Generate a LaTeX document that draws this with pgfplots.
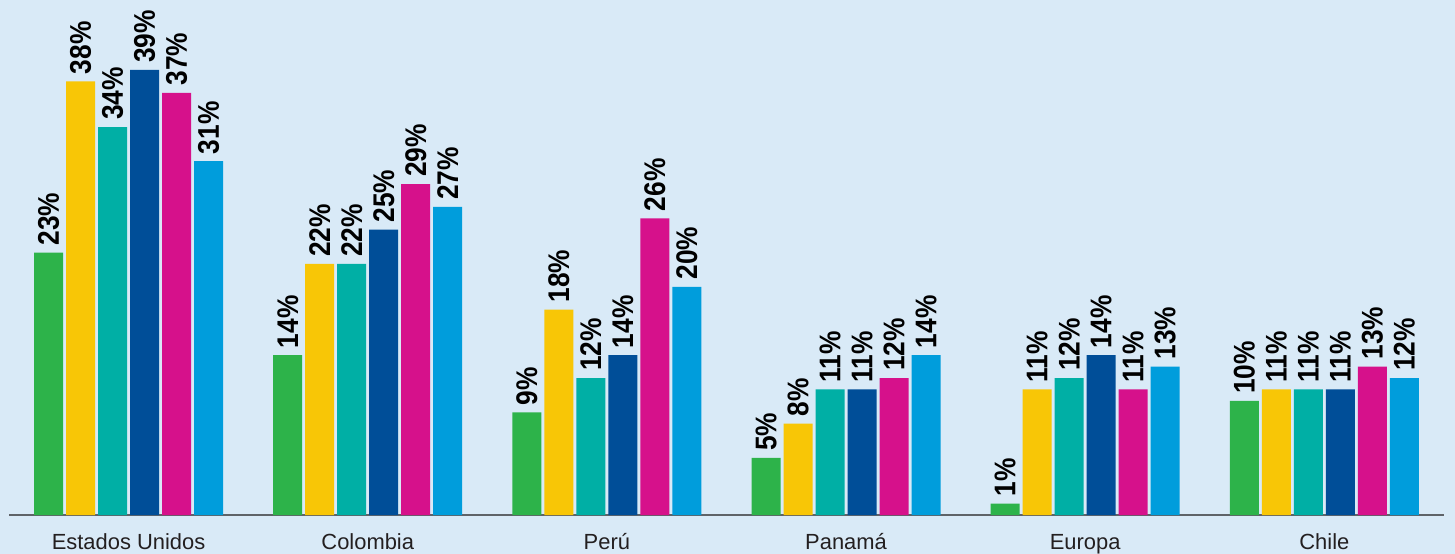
\documentclass[border=0pt]{standalone}
\usepackage{fontspec}
\setmainfont{Liberation Sans}
\newfontfamily\lblfont[FakeStretch=0.88]{Liberation Sans}
\usepackage{pgfplots}
\pgfplotsset{compat=1.18}
\definecolor{bg}{HTML}{D9EAF7}
\definecolor{cgreen}{HTML}{2DB34A}
\definecolor{cyellow}{HTML}{F8C606}
\definecolor{cteal}{HTML}{00AFA5}
\definecolor{cdblue}{HTML}{004E98}
\definecolor{cmag}{HTML}{D6118B}
\definecolor{clblue}{HTML}{009DDC}
\definecolor{axgray}{HTML}{5F6368}
\definecolor{txt}{HTML}{231F20}
\begin{document}
\begin{tikzpicture}
\fill[bg] (-9bp,-39bp) rectangle (1446bp,515bp);
\begin{axis}[
  at={(0,0)}, anchor=south west,
  scale only axis,
  width=1435bp, height=515bp,
  xmin=-0.5, xmax=5.5, ymin=0, ymax=45.13,
  ybar=3bp, bar width=29bp,
  axis x line=bottom, axis y line=none,
  x axis line style={-, draw=axgray, line width=1.6bp},
  xtick={0,1,2,3,4,5},
  xticklabels={Estados Unidos,Colombia,Perú,Panamá,Europa,Chile},
  major tick length=0pt,
  xticklabel style={font=\fontsize{22}{24}\selectfont, text=txt, inner sep=0pt, anchor=base, yshift=-34.5bp},
  clip=false,
  /pgf/number format/assume math mode=true,
  nodes near coords={\pgfmathprintnumber{\pgfplotspointmeta}\%},
  every node near coord/.append style={rotate=90, anchor=west, font=\lblfont\fontsize{30}{30}\selectfont\bfseries, text=black, inner xsep=7bp, inner ysep=0pt},
]
\addplot[fill=cgreen, draw=none] coordinates {(0,23) (1,14) (2,9) (3,5) (4,1) (5,10)};
\addplot[fill=cyellow, draw=none] coordinates {(0,38) (1,22) (2,18) (3,8) (4,11) (5,11)};
\addplot[fill=cteal, draw=none] coordinates {(0,34) (1,22) (2,12) (3,11) (4,12) (5,11)};
\addplot[fill=cdblue, draw=none] coordinates {(0,39) (1,25) (2,14) (3,11) (4,14) (5,11)};
\addplot[fill=cmag, draw=none] coordinates {(0,37) (1,29) (2,26) (3,12) (4,11) (5,13)};
\addplot[fill=clblue, draw=none] coordinates {(0,31) (1,27) (2,20) (3,14) (4,13) (5,12)};
\end{axis}
\pgfresetboundingbox
\path (-9bp,-39bp) rectangle (1446bp,515bp);
\end{tikzpicture}
\end{document}
